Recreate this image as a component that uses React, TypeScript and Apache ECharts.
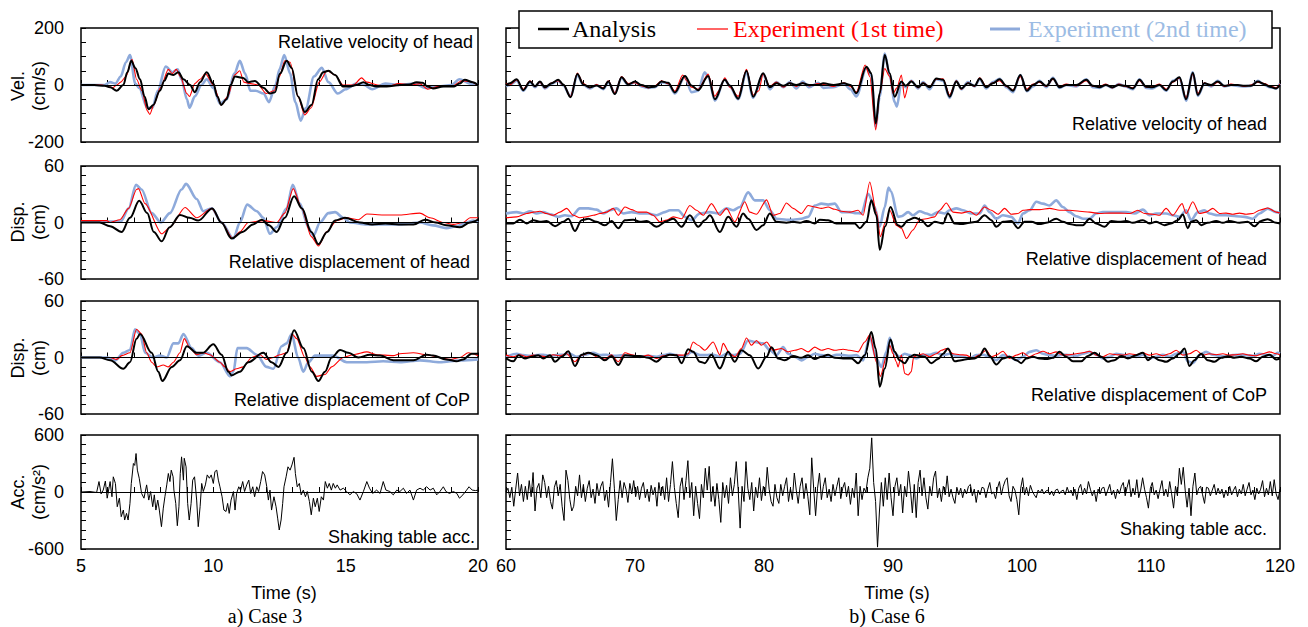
import React, { useEffect, useRef } from "react";
import * as echarts from "echarts";

// ---------------- Case 3 (5-20 s) ----------------
const velA = [[5,0],[5.5,0],[5.9,-3],[6.1,-8],[6.35,-20],[6.6,0],[6.75,45],[6.9,85],[7.05,60],[7.23,20],[7.4,-40],[7.55,-85],[7.73,-70],[7.98,-20],[8.15,15],[8.3,40],[8.49,35],[8.68,45],[8.87,20],[9.12,0],[9.3,-25],[9.5,10],[9.75,45],[10.0,5],[10.15,-40],[10.3,-70],[10.5,-50],[10.65,0],[10.82,30],[11.13,25],[11.32,10],[11.57,14],[11.89,-10],[12.14,-30],[12.33,-25],[12.52,40],[12.77,85],[12.96,60],[13.2,-40],[13.46,-95],[13.71,-70],[13.96,20],[14.15,45],[14.35,50],[14.6,35],[14.9,-5],[15.16,-5],[15.4,0],[15.67,10],[15.9,0],[16.17,-5],[16.55,-5],[17.05,0],[17.4,2],[17.68,10],[17.9,8],[18.1,-5],[18.3,-12],[18.68,-5],[19.1,-5],[19.3,5],[19.5,18],[19.8,10],[20,0]];
const velR = [[5,0],[5.8,0],[6.0,-5],[6.2,-10],[6.35,0],[6.5,10],[6.7,30],[6.93,90],[7.1,20],[7.3,-20],[7.5,-90],[7.6,-103],[7.75,-70],[8.0,-10],[8.3,55],[8.45,40],[8.6,55],[8.75,30],[9.0,-30],[9.1,-40],[9.3,5],[9.5,20],[9.7,40],[10.0,0],[10.3,-70],[10.55,-40],[10.8,35],[11.0,50],[11.15,10],[11.4,5],[11.7,0],[12.0,-30],[12.3,-20],[12.5,30],[12.7,85],[12.9,80],[13.2,-40],[13.45,-105],[13.7,-80],[14.0,10],[14.3,50],[14.6,35],[14.9,0],[15.3,0],[15.6,25],[15.8,10],[16.2,0],[16.6,-5],[17.0,5],[17.5,0],[17.8,5],[18.1,-15],[18.5,-5],[19.0,-5],[19.4,15],[19.7,12],[20,0]];
const velB = [[5,0],[5.9,0],[6.1,10],[6.3,5],[6.5,30],[6.7,80],[6.85,105],[7.05,5],[7.2,-10],[7.5,-80],[7.7,-80],[7.9,-20],[8.2,65],[8.45,45],[8.65,55],[8.8,20],[9.0,-50],[9.1,-80],[9.3,-40],[9.55,0],[9.75,20],[10.0,-10],[10.25,-65],[10.5,-50],[10.8,40],[11.0,85],[11.2,40],[11.4,-20],[11.6,-20],[11.9,-30],[12.1,-60],[12.35,0],[12.5,55],[12.68,105],[12.9,40],[13.1,-60],[13.3,-125],[13.5,-80],[13.8,30],[14.1,60],[14.35,10],[14.7,-30],[15.0,-15],[15.4,5],[15.7,0],[16.0,-15],[16.5,5],[17.0,0],[17.6,5],[18.0,-10],[18.5,-5],[19.0,0],[19.3,20],[19.7,5],[20,0]];

const dhA = [[5,0],[5.7,0],[6.1,-4],[6.54,-10],[6.85,5],[7.2,23],[7.5,10],[7.75,-10],[8.05,-20],[8.35,-5],[8.74,8],[9.1,5],[9.43,2],[9.96,15],[10.3,0],[10.69,-17],[11.1,-10],[11.5,-2],[11.83,3],[12.1,-3],[12.39,-10],[12.7,5],[13.05,28],[13.35,15],[13.7,-10],[13.97,-23],[14.3,-10],[14.6,2],[14.97,5],[15.54,0],[16.0,-2],[16.5,-1],[17.0,-2],[17.56,-2],[18.0,3],[18.4,0],[18.8,-3],[19.32,-5],[19.7,0],[20,3]];
const dhR = [[5,2],[5.97,2],[6.1,0],[6.47,3],[6.8,15],[7.1,35],[7.17,36],[7.42,20],[8.05,-12],[8.36,-5],[8.93,16],[9.37,5],[9.94,15],[10.31,0],[10.73,-17],[11.0,-10],[11.32,0],[11.89,2],[12.4,0],[12.7,10],[13.02,36],[13.34,15],[13.7,-15],[13.97,-25],[14.28,-10],[14.66,2],[15.04,5],[15.48,3],[15.8,9],[16.42,8],[17.05,8],[17.8,10],[18.19,5],[18.7,0],[19.07,-2],[19.44,0],[19.7,5],[20,5]];
const dhB = [[5,1],[6.5,1],[6.8,15],[7.08,40],[7.29,35],[7.67,10],[8.02,0],[8.36,10],[8.8,35],[8.97,41],[9.37,25],[9.62,12],[9.94,15],[10.31,0],[10.76,-17],[11.0,0],[11.28,19],[11.64,12],[11.89,5],[12.14,-12],[12.39,-5],[12.77,15],[13.0,40],[13.27,20],[13.59,-5],[13.78,-14],[14.03,0],[14.35,10],[14.6,11],[14.91,5],[15.16,0],[15.8,-2],[17.05,-2],[17.8,0],[18.3,-3],[18.8,-6],[19.19,-4],[19.57,0],[19.82,2],[20,0]];

const dcA = [[5,0],[5.7,0],[6.1,-3],[6.6,-12],[6.85,-5],[7.1,20],[7.23,25],[7.67,5],[7.92,-15],[8.07,-25],[8.43,-10],[8.74,-3],[9.0,12],[9.37,5],[9.6,5],[10.0,14],[10.31,3],[10.57,-15],[10.69,-19],[11.0,-15],[11.32,-5],[11.89,5],[12.2,-5],[12.46,-10],[12.77,5],[13.05,29],[13.4,10],[13.72,-15],[13.97,-25],[14.22,-15],[14.47,0],[14.79,8],[15.1,5],[15.48,0],[15.92,3],[16.3,2],[16.8,-3],[17.56,-3],[18.06,3],[18.3,2],[18.8,-2],[19.19,-4],[19.44,-2],[19.76,4],[20,4]];
const dcR = [[5,0],[6.1,0],[6.35,-2],[6.54,2],[6.85,5],[7.1,30],[7.29,25],[7.48,5],[7.67,-5],[7.86,-10],[8.11,-8],[8.3,-10],[8.49,-5],[8.74,5],[8.9,20],[9.12,10],[9.37,3],[9.62,5],[9.87,3],[10.25,-5],[10.44,-10],[10.63,-15],[10.88,-12],[11.13,-10],[11.45,0],[11.76,3],[12.01,-2],[12.27,0],[12.52,3],[12.77,5],[12.98,25],[13.15,20],[13.46,0],[13.65,-10],[13.9,-20],[14.22,-18],[14.47,-10],[14.91,0],[15.29,3],[15.8,6],[16.17,3],[16.8,2],[17.05,4],[17.56,5],[18.06,3],[18.56,0],[18.94,-2],[19.32,0],[19.63,5],[20,2]];
const dcB = [[5,0],[6.0,0],[6.3,-3],[6.6,5],[6.85,8],[7.04,30],[7.23,25],[7.42,5],[7.73,0],[7.98,2],[8.24,0],[8.49,15],[8.68,15],[8.87,25],[9.18,10],[9.43,2],[9.75,5],[10.25,-5],[10.63,-20],[10.76,-15],[10.91,10],[11.26,10],[11.64,3],[12.01,-10],[12.27,-12],[12.58,12],[12.77,15],[12.96,25],[13.2,0],[13.4,-15],[13.59,-5],[13.84,2],[14.53,2],[15.04,-5],[15.8,-5],[16.42,-4],[17.05,-5],[17.81,-3],[18.56,-5],[19.32,-3],[20,-2]];

const accL = [[5.0,0],[5.34,5],[5.59,-5],[5.68,110],[5.76,-20],[5.84,20],[5.92,115],[5.99,-65],[6.1,110],[6.17,-50],[6.22,160],[6.3,90],[6.37,-155],[6.45,-65],[6.52,-260],[6.6,-190],[6.65,-295],[6.72,-225],[6.78,-295],[6.85,-120],[6.9,90],[6.98,300],[7.03,280],[7.08,405],[7.13,230],[7.2,145],[7.29,-15],[7.38,-65],[7.48,75],[7.56,-85],[7.63,5],[7.71,-155],[7.77,-30],[7.83,-190],[7.9,-85],[7.96,-190],[8.04,-365],[8.11,-170],[8.17,-50],[8.24,75],[8.3,195],[8.36,110],[8.41,230],[8.48,160],[8.51,20],[8.58,-120],[8.64,-355],[8.7,-155],[8.75,195],[8.8,370],[8.87,125],[8.9,355],[8.97,265],[9.03,-120],[9.09,-295],[9.16,-120],[9.22,125],[9.29,160],[9.37,-85],[9.43,-365],[9.5,-155],[9.56,90],[9.62,5],[9.7,75],[9.77,180],[9.85,145],[9.92,180],[10.0,90],[10.06,215],[10.13,230],[10.19,125],[10.25,55],[10.33,-50],[10.4,-190],[10.48,-205],[10.54,-120],[10.6,-225],[10.67,-85],[10.76,5],[10.82,-190],[10.88,-15],[10.96,55],[11.03,20],[11.11,110],[11.18,5],[11.26,75],[11.34,125],[11.41,-15],[11.49,55],[11.56,-50],[11.64,55],[11.71,5],[11.79,110],[11.86,215],[11.94,180],[12.02,55],[12.08,-85],[12.14,20],[12.2,-190],[12.29,-50],[12.37,-155],[12.43,-275],[12.49,-400],[12.56,-295],[12.62,-120],[12.67,55],[12.75,160],[12.82,265],[12.9,230],[12.97,285],[13.05,365],[13.1,195],[13.17,55],[13.25,90],[13.32,-30],[13.4,20],[13.48,-50],[13.55,5],[13.63,-100],[13.7,-240],[13.78,-65],[13.85,-155],[13.93,-65],[14.0,-205],[14.08,-50],[14.16,-85],[14.23,110],[14.31,40],[14.38,90],[14.46,20],[14.53,90],[14.61,40],[14.68,75],[14.79,20],[14.91,40],[15.04,5],[15.16,-30],[15.29,5],[15.42,-20],[15.54,-85],[15.67,5],[15.8,110],[15.9,40],[16.02,-15],[16.17,20],[16.3,-15],[16.42,110],[16.52,20],[16.67,5],[16.8,-30],[16.93,20],[17.05,5],[17.18,40],[17.3,-15],[17.43,20],[17.56,-85],[17.68,20],[17.81,40],[17.93,20],[18.06,55],[18.19,20],[18.31,40],[18.44,-30],[18.56,5],[18.69,55],[18.79,5],[18.92,-15],[19.07,5],[19.2,-15],[19.3,-65],[19.43,-30],[19.57,20],[19.66,55],[19.78,20],[19.91,15],[20.0,20]];

// ---------------- Case 6 (60-120 s) ----------------
const vel6A = [[60,0],[60.3,6],[60.83,20],[61.34,-18],[61.86,12],[62.25,-4],[62.63,12],[63.02,-8],[63.54,6],[64.05,18],[64.44,2],[65.01,-43],[65.53,39],[65.99,2],[66.51,-8],[67.02,-2],[67.54,-12],[67.93,12],[68.44,-32],[68.96,27],[69.48,2],[69.99,12],[70.51,0],[71.03,-8],[71.54,-6],[72.06,12],[72.57,8],[73.09,-26],[73.87,32],[74.38,-2],[74.9,-18],[75.67,32],[76.19,-50],[76.96,18],[77.35,-2],[78.0,-48],[78.64,50],[79.16,-41],[79.93,41],[80.45,-8],[80.97,6],[81.5,-3],[82.0,6],[82.5,0],[83.0,6],[83.5,0],[84.2,0],[84.6,6],[85.4,0],[86.2,6],[86.7,0],[87.16,-29],[87.94,64],[88.32,41],[88.66,-135],[88.97,-29],[89.36,105],[89.74,41],[90.13,-41],[90.65,12],[90.99,-3],[91.42,12],[91.94,-8],[92.33,6],[92.84,-8],[93.36,23],[93.88,18],[94.39,-41],[94.91,12],[95.3,-12],[95.81,6],[96.33,-3],[96.72,23],[97.23,-8],[97.75,6],[98.27,20],[98.78,-3],[99.3,-20],[99.87,35],[100.38,-20],[100.85,0],[101.36,12],[101.88,-3],[102.4,23],[102.91,-8],[103.43,0],[104.2,0],[104.98,18],[105.5,-3],[106.0,-8],[106.5,0],[107.0,-8],[107.5,0],[108.0,-3],[108.6,-12],[109.11,18],[109.63,-6],[110.1,-8],[110.66,0],[111.18,-18],[111.69,12],[112.21,27],[112.72,-50],[113.24,43],[113.63,-35],[114.14,6],[114.66,0],[115.17,12],[115.69,-3],[116.2,0],[116.72,0],[117.24,-3],[117.75,-3],[118.28,12],[118.8,3],[119.2,-6],[119.7,-12],[120,0]];
const vel6R = [[60,5],[60.3,0],[60.83,18],[61.34,-15],[61.86,15],[62.25,-6],[62.63,10],[63.02,-10],[63.54,8],[64.05,15],[64.44,0],[65.01,-40],[65.53,42],[65.99,5],[66.51,-10],[67.02,2],[67.54,-10],[67.93,15],[68.44,-28],[68.96,30],[69.48,5],[69.99,8],[70.51,-3],[71.03,-10],[71.54,-3],[72.06,15],[72.57,5],[73.09,-22],[73.7,35],[74.0,15],[74.38,-8],[74.9,-15],[75.67,38],[76.19,-40],[76.5,-20],[76.96,25],[77.35,-8],[78.0,-40],[78.64,55],[79.16,-35],[79.6,-20],[79.93,40],[80.45,-5],[80.97,10],[81.5,-8],[82.0,8],[82.5,-5],[83.0,8],[83.5,-3],[84.2,5],[84.6,2],[85.4,-5],[86.2,8],[86.7,-5],[87.16,-25],[87.84,70],[88.2,30],[88.66,-158],[88.97,-30],[89.36,58],[89.74,30],[90.0,-30],[90.3,-10],[90.65,35],[90.9,-45],[91.2,0],[91.42,15],[91.94,-10],[92.33,8],[92.84,-5],[93.36,20],[93.88,22],[94.39,-35],[94.91,15],[95.3,-15],[95.81,8],[96.33,-5],[96.72,25],[97.23,-5],[97.75,8],[98.27,15],[98.78,-5],[99.3,-18],[99.87,30],[100.38,-15],[100.85,3],[101.36,10],[101.88,-5],[102.4,20],[102.91,-5],[103.43,3],[104.2,-3],[104.98,15],[105.5,-5],[106.0,-5],[106.5,3],[107.0,-10],[107.5,3],[108.0,-5],[108.6,-10],[109.11,15],[109.63,-8],[110.1,-5],[110.66,3],[111.18,-15],[111.69,10],[112.21,25],[112.72,-45],[113.24,40],[113.63,-30],[114.14,8],[114.66,-3],[115.17,10],[115.69,-5],[116.2,3],[116.72,0],[117.24,-5],[117.75,0],[118.28,10],[118.8,5],[119.2,-3],[119.7,-10],[120,3]];
const vel6B = [[60,-5],[60.3,0],[60.83,15],[61.34,-20],[61.86,10],[62.25,-8],[62.63,10],[63.02,-12],[63.54,5],[64.05,15],[64.44,-2],[65.01,-40],[65.53,35],[65.99,0],[66.51,-12],[67.02,0],[67.54,-15],[67.93,10],[68.44,-30],[68.96,25],[69.48,0],[69.99,10],[70.51,-5],[71.03,-10],[71.54,-8],[72.06,10],[72.57,5],[73.09,-30],[73.87,30],[74.38,-25],[74.9,-20],[75.4,45],[75.67,30],[76.19,-55],[76.96,20],[77.35,-5],[78.0,-50],[78.64,45],[79.16,-45],[79.93,38],[80.45,-15],[80.97,10],[81.5,-8],[82.0,10],[82.5,-12],[83.0,12],[83.5,-8],[84.2,8],[84.6,-10],[85.4,-8],[86.2,5],[86.7,-15],[87.16,-40],[87.94,60],[88.32,35],[88.66,-145],[88.97,-40],[89.36,110],[89.74,35],[90.13,-60],[90.3,-76],[90.65,10],[90.99,-8],[91.42,15],[91.94,-12],[92.33,10],[92.84,-15],[93.36,20],[93.88,15],[94.39,-45],[94.91,15],[95.3,-15],[95.81,10],[96.33,-5],[96.72,20],[97.23,-12],[97.75,10],[98.27,22],[98.78,-8],[99.3,-25],[99.87,35],[100.38,-22],[100.85,-5],[101.36,15],[101.88,-8],[102.4,25],[102.91,-10],[103.43,0],[104.2,-5],[104.98,20],[105.5,-8],[106.0,-10],[106.5,0],[107.0,-10],[107.5,3],[108.0,-5],[108.6,-15],[109.11,20],[109.63,-10],[110.1,-12],[110.66,0],[111.18,-20],[111.69,15],[112.21,25],[112.72,-55],[113.24,45],[113.63,-38],[114.14,5],[114.66,-5],[115.17,15],[115.69,-5],[116.2,0],[116.72,-3],[117.24,-5],[117.75,-3],[118.28,15],[118.8,0],[119.2,-8],[119.7,-12],[120,5]];

const dh6A = [[60,-1],[60.57,-1],[61.08,3],[61.6,-1],[62.12,2.5],[62.63,0.7],[63.15,1.7],[63.8,-4],[64.44,0.7],[64.83,4],[65.34,-9],[65.86,2.5],[66.38,4],[67.02,0.7],[67.67,-3],[68.18,1.7],[68.7,-6],[69.22,2.5],[69.86,3],[70.38,0.7],[70.9,1.7],[71.67,-4.5],[72.45,1.4],[72.96,4],[73.61,-4.5],[74.25,7.7],[74.9,-4.5],[75.41,2.5],[75.8,7.7],[76.58,-10],[77.22,6],[77.87,-4.5],[78.38,9.5],[78.77,4],[79.42,-8],[79.93,-3],[80.45,9.5],[80.97,0.7],[81.74,-0.3],[82.26,0.7],[82.77,-0.3],[83.29,1.7],[83.93,-1],[84.32,3],[84.97,2.5],[85.61,-1],[86.39,-1],[87.03,-1],[87.42,-6],[87.94,0.7],[88.32,23.5],[88.71,7.7],[88.97,-29],[89.4,-4],[89.8,16.5],[90.39,-3],[90.65,-4.5],[91.17,2.5],[91.68,5],[92.2,2.5],[92.71,-4],[93.23,0.7],[93.88,-1],[94.26,9.5],[94.78,-1],[95.3,-1.7],[95.94,-0.3],[96.46,0.7],[97.1,7.7],[97.62,2.5],[98.01,-4.5],[98.52,0.7],[99.17,1.7],[99.69,-6],[100.2,0.7],[100.72,0.7],[101.36,-1.7],[101.88,-0.3],[102.65,4],[103.17,0.7],[103.69,-1.7],[104.2,-2.8],[104.72,-2.8],[105.24,4],[105.75,-1],[106.4,-4.5],[106.92,1.7],[107.56,0.7],[108.08,1.7],[108.59,-0.3],[109.37,2.5],[109.88,-1],[110.4,0.7],[111.05,-2.8],[111.56,-1],[112.08,2.5],[112.47,8.4],[112.85,-6],[113.11,0.7],[113.5,2.5],[113.89,-2.8],[114.4,-0.3],[115.05,1.7],[115.57,-0.3],[116.08,1.7],[116.86,-0.3],[117.5,0.7],[118.02,-4],[118.53,1.7],[119.05,3.5],[119.7,-0.3],[120,-1]];
const dh6R = [[60,5],[60.83,6],[61.6,9.5],[62.12,11],[62.63,12],[63.15,9.5],[63.67,7.7],[64.18,11],[64.7,15],[65.22,7.7],[65.73,5],[66.25,6],[66.76,7.7],[67.28,9.5],[67.8,11],[68.31,15],[68.7,7.7],[69.22,16.5],[69.73,13.7],[70.25,11],[70.9,11],[71.41,7.7],[71.93,0.7],[72.45,2.5],[72.96,6],[73.61,4],[74.25,18],[74.77,13],[75.29,7.7],[75.93,20],[76.58,7.7],[77.09,15],[77.74,0.7],[78.51,22],[78.9,11],[79.42,8.8],[80.2,24],[80.71,7.7],[81.22,9.5],[81.74,20.7],[82.26,15],[82.9,9.5],[83.42,18],[83.93,16.5],[84.45,15],[84.97,16.5],[85.48,14],[86.0,12],[86.65,11],[87.29,13],[87.68,7.7],[88.2,43],[88.71,11],[89.02,-15],[89.4,0],[89.75,13],[90.26,-3],[90.65,-6],[91.04,-17],[91.55,-8],[92.07,3],[92.59,4],[93.23,6],[93.62,13],[94.13,20.7],[94.65,11],[95.3,10],[95.94,12],[96.46,7.7],[97.1,16.5],[97.62,13],[98.14,8.8],[98.65,15],[99.17,8.8],[99.69,9.5],[100.07,13],[100.59,13.7],[101.36,13.7],[102.14,15],[102.91,13],[103.69,13],[104.46,12],[105.24,11],[106.01,9.5],[106.79,10],[107.56,10],[108.34,9.5],[108.98,13],[109.5,9.5],[110.14,8.8],[110.66,7.7],[111.17,15],[111.69,7.7],[112.41,20],[112.72,9.5],[113.24,22],[113.76,9.5],[114.27,11],[114.79,15],[115.31,9.5],[115.82,10],[116.34,8.8],[116.86,10],[117.37,8.8],[117.89,9.5],[118.41,13],[119.05,15.4],[119.7,11],[120,10]];
const dh6B = [[60,9.5],[60.83,11],[61.34,9.5],[61.86,12],[62.38,9.5],[62.89,11],[63.41,8.8],[64.05,6],[64.57,7.7],[65.09,6.7],[65.73,15],[66.38,15],[67.02,13.7],[67.54,9.5],[68.06,13],[68.57,15],[69.09,9.5],[69.73,11],[70.38,9.5],[71.03,9.5],[71.67,7.7],[72.32,11],[72.7,13],[73.35,13],[73.87,6],[74.38,2.5],[75.03,9.5],[75.8,11],[76.45,9.5],[77.09,15],[77.61,13],[78.13,16.5],[78.77,32],[79.29,23.5],[79.93,23.5],[80.45,13],[80.97,4],[81.74,3],[82.26,3],[82.9,4],[83.42,6],[83.93,18],[84.45,20],[84.97,19],[85.48,20],[86.0,11],[86.65,11],[87.16,10],[87.55,9.5],[88.07,30.5],[88.58,16.5],[88.97,-4.5],[89.36,16.5],[89.65,37],[89.85,33],[90.39,6],[90.65,6.7],[91.17,11],[91.55,7.7],[92.07,12],[92.59,9.5],[92.97,7.7],[93.49,11],[94.0,9.5],[94.39,13],[94.91,15],[95.43,13],[96.07,9.5],[96.72,9.5],[97.1,18],[97.49,11],[98.01,4],[98.52,7.7],[99.17,6],[99.69,-1],[100.07,9.5],[100.59,13],[101.11,22],[101.62,20],[102.14,18],[102.65,23.5],[103.17,16.5],[103.69,11],[104.2,6.7],[104.72,4],[105.24,4],[105.75,9.5],[106.27,11],[106.92,11],[107.56,11],[108.08,11],[108.72,9.5],[109.37,13.7],[109.88,7.7],[110.4,9.5],[111.17,9.5],[111.69,7.7],[112.21,6],[112.72,13],[113.11,2.5],[113.63,11],[114.14,13],[114.53,9.5],[115.18,7.7],[115.82,7.7],[116.6,6.7],[117.24,6],[117.89,4],[118.41,9.5],[119.05,14.7],[119.7,11],[120,10]];

const dc6A = [[60,-1],[60.57,-4],[60.96,2.5],[61.47,-1],[61.99,0.7],[62.5,2.5],[62.89,-1],[63.41,2.5],[63.8,-4.5],[64.31,0.7],[64.83,6.7],[65.34,-9],[65.86,3],[66.38,5],[67.02,2.5],[67.67,-3],[68.18,1.7],[68.7,-8],[69.22,2.5],[69.86,1.7],[70.38,1.7],[71.03,-0.3],[71.67,-4.5],[72.19,0.7],[72.7,3],[73.22,2.5],[73.61,-6],[74.12,8.8],[74.51,6],[75.03,-4.5],[75.41,-6],[75.93,3],[76.58,-11.6],[77.22,6],[77.74,-4.5],[78.25,7.7],[78.9,2.5],[79.55,-11.6],[80.2,0.7],[80.58,11],[81.1,-1],[81.61,-3],[82.26,1.7],[82.9,-0.3],[83.42,2.5],[83.93,-1.7],[84.45,0.7],[84.97,3],[85.48,-0.3],[86.13,-1],[86.78,-1],[87.29,-6],[87.81,2.5],[88.32,27],[88.66,9.5],[88.97,-31],[89.36,-11.6],[89.8,19],[90.13,6],[90.52,-3],[90.91,-6],[91.29,0.7],[91.68,3],[92.07,1.7],[92.46,0.7],[92.97,-6],[93.49,-1.7],[93.88,4],[94.26,9.5],[94.78,-4],[95.3,-2.8],[95.81,-1.7],[96.33,-1],[96.72,1.7],[97.1,9.5],[97.49,1.7],[98.01,-7.4],[98.52,-1],[99.04,0.7],[99.56,-2.8],[99.94,-6],[100.33,-1],[100.85,0.7],[101.36,-1],[101.88,-1.7],[102.4,-0.3],[102.91,6],[103.43,0.7],[103.95,-4],[104.59,-4],[105.11,1.7],[105.62,5],[106.14,0.7],[106.66,-4.5],[107.17,-2.8],[107.69,1.7],[108.21,-1],[108.85,2.5],[109.37,5],[109.76,-2.8],[110.14,0.7],[110.66,-2.8],[111.18,-4.5],[111.69,-1],[112.21,4],[112.6,9.5],[112.98,-9],[113.37,-2.8],[113.89,4],[114.4,-2.8],[114.92,-4.5],[115.44,-0.3],[115.95,1.4],[116.47,-0.3],[116.98,0.7],[117.63,-1],[118.15,-4],[118.66,0.7],[119.18,3],[119.7,-2],[120,-1]];
const dc6R = [[60,2.5],[60.57,0.7],[61.08,3],[61.6,0.7],[62.12,2.5],[62.63,1.7],[63.15,0.7],[63.67,3],[64.18,1.7],[64.7,4],[65.34,-4.5],[65.86,2.5],[66.51,5],[67.02,0.7],[67.67,-1.7],[68.18,3],[68.7,-4.5],[69.22,5],[69.86,2.5],[70.38,0.7],[71.03,2.5],[71.67,-1],[72.19,1.7],[72.7,3],[73.22,2.5],[73.74,2.5],[74.12,4],[74.51,16.5],[74.9,13],[75.41,7.7],[76.06,16.5],[76.58,2.5],[76.83,15],[77.35,4],[77.74,0.7],[78.25,9.5],[78.64,20.7],[79.03,13],[79.42,18],[79.8,13],[80.2,16.5],[80.71,7.7],[81.35,9.5],[81.87,6],[82.39,7.7],[82.9,9.5],[83.42,6],[83.93,11],[84.45,7.7],[84.97,9.5],[85.48,7.7],[86.13,8.8],[86.65,7.7],[87.29,6],[87.81,16.5],[88.2,24],[88.71,-4.5],[89.02,-20],[89.49,0.7],[89.75,13],[90.0,4],[90.26,-4.5],[90.39,-10],[90.65,2.5],[90.91,-17],[91.17,-18.6],[91.42,-15],[91.6,0.7],[91.94,2.5],[92.33,4],[92.84,0.7],[93.36,4],[93.75,7.7],[94.13,9.5],[94.65,4],[95.17,3],[95.68,2.5],[96.2,-1],[96.72,3],[97.23,7.7],[97.62,0.7],[98.01,2.5],[98.52,6.7],[99.04,-1],[99.56,2.5],[100.07,5],[100.59,0.7],[101.11,4],[101.62,6.7],[102.14,4],[102.65,6],[103.17,2.5],[103.69,3],[104.2,4],[104.72,5],[105.24,6.7],[105.75,2.5],[106.27,0.7],[106.79,4],[107.3,3],[107.82,2.5],[108.33,4],[108.85,3],[109.37,5],[109.88,2.5],[110.4,4],[110.92,1.7],[111.43,4],[111.95,7.7],[112.47,2.5],[112.98,4],[113.5,7.7],[114.02,2.5],[114.53,4],[115.05,3],[115.57,4],[116.08,2.5],[116.6,3],[117.12,4],[117.63,2.5],[118.15,1.7],[118.66,4],[119.18,6],[119.7,4],[120,3]];
const dc6B = [[60,0.7],[60.83,4],[61.34,2.5],[61.86,1.7],[62.38,2.5],[62.89,3],[63.41,1.7],[63.92,2.5],[64.44,3],[64.96,4],[65.47,0.7],[66.12,3],[66.76,5],[67.28,2.5],[67.8,3],[68.44,1.7],[69.09,2.5],[69.73,1.7],[70.38,0.7],[71.03,1.7],[71.67,0.7],[72.19,2.5],[72.7,4],[73.22,2.5],[73.87,0.7],[74.38,6],[75.03,2.5],[75.54,2.5],[76.06,3],[76.58,0.7],[77.09,4],[77.61,2.5],[78.13,4],[78.77,18],[79.29,16.5],[79.93,15],[80.45,7.7],[80.97,2.5],[81.48,11],[81.87,4],[82.39,0.7],[82.9,-3],[83.42,0.7],[83.93,4],[84.45,2.5],[85.1,0.7],[85.61,3],[86.13,2.5],[86.65,1.7],[87.16,2.5],[87.68,-3],[88.2,22],[88.71,-1],[89.1,-10],[89.49,6],[89.75,21],[90.13,4],[90.52,0.7],[90.91,4],[91.29,2.5],[91.81,-1],[92.33,2.5],[92.84,3],[93.36,5],[93.88,2.5],[94.39,4],[94.91,1.7],[95.43,0.7],[95.94,-1],[96.46,2.5],[96.98,3],[97.49,0.7],[98.01,-2.8],[98.52,2.5],[99.04,0.7],[99.56,-2.8],[100.07,0.7],[100.59,6],[101.11,7.7],[101.62,4],[102.14,2.5],[102.65,1.7],[103.17,3],[103.69,2.5],[104.2,1.7],[104.72,4],[105.24,6],[105.75,3],[106.27,-1],[106.79,0.7],[107.3,4],[107.82,3],[108.33,1.7],[108.85,0.7],[109.37,3],[109.88,-1],[110.4,0.7],[110.92,3],[111.43,0.7],[111.95,4],[112.47,6],[112.85,-4],[113.24,-6],[113.76,2.5],[114.27,6],[114.79,3],[115.31,1.7],[115.82,0.7],[116.34,2.5],[116.86,3],[117.37,2.5],[117.89,1.7],[118.41,4],[118.92,3],[119.44,1.7],[119.82,5],[120,4]];

// shaking table acc., Case 6, one value every 0.15 s from 60 s
const ACC6_T0 = 60;
const ACC6_DT = 0.15;
const acc6 = [
  0,40,-60,50,-150,30,200,-40,80,-100,60,-80,120,-50,205,-200,40,90,-60,180,
  100,-60,60,-100,-180,50,120,-40,80,-150,-300,230,120,-80,-200,-150,60,-40,180,-60,
  80,-100,40,120,-60,30,-120,90,-40,60,110,-90,20,-160,100,350,40,-300,-80,120,
  -60,100,30,-110,90,-20,120,-50,60,-80,40,100,-60,30,-100,70,-30,50,-150,100,
  -40,60,-80,150,-100,80,320,50,-120,-270,60,150,-80,120,330,-60,100,-250,60,-120,
  -280,80,-60,250,20,270,-100,60,-150,90,-80,-320,100,-60,70,-120,150,-40,80,320,
  20,-380,60,-100,320,40,-80,100,-200,50,-60,150,-90,60,-40,260,30,-100,-150,80,
  -60,-120,80,-40,60,150,-100,40,-80,200,20,-120,60,150,-70,90,-50,-240,360,40,
  -250,40,200,-80,60,150,-60,30,-100,80,-40,60,150,-70,40,100,-50,60,-130,40,
  -60,200,-250,60,-80,40,0,150,250,570,100,-100,-580,-200,100,-150,150,-80,200,-60,
  -250,60,150,-40,80,-220,60,-50,220,30,-220,80,-270,100,230,-40,150,-60,-180,60,
  -40,150,220,-60,40,-100,60,-30,170,-50,30,-60,-120,50,-30,40,-60,30,-20,60,
  80,-40,30,-110,20,-30,50,40,-60,30,100,-20,0,-70,40,110,-30,60,120,150,
  -40,-100,60,20,-80,-240,40,150,-30,50,-40,70,10,-30,-60,20,-10,30,-20,10,
  20,-30,10,-40,20,30,-20,10,20,-30,50,-10,20,-40,30,-80,40,80,-30,40,
  -20,110,30,-40,20,-100,30,-20,40,50,-40,20,80,-30,20,-70,30,-20,60,100,
  -40,50,130,-50,40,-30,130,-60,20,150,30,-60,-170,40,100,-30,20,-70,30,120,
  -40,30,-50,110,-20,-170,60,-40,250,80,260,20,-160,40,-250,60,200,-30,40,60,
  -30,-120,50,40,-40,20,80,-30,40,-20,30,-60,20,-40,60,-30,20,60,-50,30,
  -20,80,-40,30,100,-30,20,-80,40,-20,30,120,-50,40,-30,110,-40,130,-20,-80,
  30
];

// ---------------- styling ----------------
const SANS = "Arial, 'Liberation Sans', Helvetica, sans-serif";
const SERIF = "'Times New Roman', 'Liberation Serif', serif";
const BLUE = "#8EAADB";
const BLUE_TXT = "#9CBCE4";
const RED = "#FF0000";

const ROWS = [
  { top: 28, h: 114 },
  { top: 166, h: 113 },
  { top: 301, h: 113 },
  { top: 435, h: 114 },
];
const COLS = [
  { left: 81, w: 397, min: 5, max: 20, step: 1, lab: 5 },
  { left: 506, w: 774, min: 60, max: 120, step: 2, lab: 10 },
];

export default function App() {
  const ref = useRef<HTMLDivElement>(null);
  useEffect(() => {
    const chart = echarts.init(ref.current!, null, { renderer: "svg" });
    const acc6Pts = acc6.map((v, i) => [+(ACC6_T0 + ACC6_DT * i).toFixed(2), v]);

    const panels: any[] = [
      { row: 0, col: 0, ymin: -200, ymax: 200, ystep: 50, lines: [velB, velR, velA] },
      { row: 1, col: 0, ymin: -60, ymax: 60, ystep: 10, lines: [dhB, dhR, dhA] },
      { row: 2, col: 0, ymin: -60, ymax: 60, ystep: 10, lines: [dcB, dcR, dcA] },
      { row: 3, col: 0, ymin: -600, ymax: 600, ystep: 100, acc: accL },
      { row: 0, col: 1, ymin: -200, ymax: 200, ystep: 50, lines: [vel6B, vel6R, vel6A] },
      { row: 1, col: 1, ymin: -60, ymax: 60, ystep: 10, lines: [dh6B, dh6R, dh6A] },
      { row: 2, col: 1, ymin: -60, ymax: 60, ystep: 10, lines: [dc6B, dc6R, dc6A] },
      { row: 3, col: 1, ymin: -600, ymax: 600, ystep: 100, acc: acc6Pts },
    ];

    const grid: any[] = [];
    const xAxis: any[] = [];
    const yAxis: any[] = [];
    const series: any[] = [];
    const zeroLine = {
      silent: true,
      symbol: ["none", "none"],
      label: { show: false },
      lineStyle: { color: "#000", width: 1, type: "solid" },
      data: [{ yAxis: 0 }],
      animation: false,
    };

    panels.forEach((p, i) => {
      const r = ROWS[p.row];
      const c = COLS[p.col];
      grid.push({
        left: c.left, top: r.top, width: c.w, height: r.h,
        show: true, borderColor: "#000", borderWidth: 1.5, backgroundColor: "#fff",
      });
      xAxis.push({
        gridIndex: i, type: "value", min: c.min, max: c.max, interval: c.step,
        axisLine: { show: false },
        axisTick: { show: true, inside: true, length: 5, lineStyle: { color: "#000", width: 1 } },
        splitLine: { show: false },
        axisLabel: {
          show: p.row === 3, margin: 8, color: "#000", fontSize: 18, fontFamily: SANS,
          formatter: (v: number) => (Math.abs(v % c.lab) < 1e-6 ? String(v) : ""),
        },
      });
      yAxis.push({
        gridIndex: i, type: "value", min: p.ymin, max: p.ymax, interval: p.ystep,
        axisLine: { show: false },
        axisTick: { show: true, inside: true, length: 5, lineStyle: { color: "#000", width: 1 } },
        splitLine: { show: false },
        axisLabel: {
          show: p.col === 0, margin: 17, color: "#000", fontSize: 18, fontFamily: SANS,
          formatter: (v: number) => (v === p.ymin || v === p.ymax || v === 0 ? String(v) : ""),
        },
      });
      if (p.lines) {
        const [b, rr, a] = p.lines;
        series.push({
          type: "line", xAxisIndex: i, yAxisIndex: i, data: b, showSymbol: false, symbol: "none",
          smooth: 0.3, smoothMonotone: "x", lineStyle: { color: BLUE, width: 2.6 }, silent: true,
          markLine: zeroLine, z: 2,
        });
        series.push({
          type: "line", xAxisIndex: i, yAxisIndex: i, data: rr, showSymbol: false, symbol: "none",
          smooth: 0.25, smoothMonotone: "x", lineStyle: { color: RED, width: 1.1 }, silent: true, z: 3,
        });
        series.push({
          type: "line", xAxisIndex: i, yAxisIndex: i, data: a, showSymbol: false, symbol: "none",
          smooth: 0.35, smoothMonotone: "x", lineStyle: { color: "#000", width: 2 }, silent: true, z: 4,
        });
      } else {
        series.push({
          type: "line", xAxisIndex: i, yAxisIndex: i, data: p.acc, showSymbol: false, symbol: "none",
          lineStyle: { color: "#000", width: 1 }, silent: true, markLine: zeroLine, z: 3,
        });
      }
    });

    const txt = (text: string, x: number, y: number, align: string, font: string, fill = "#000", rot = 0) => ({
      type: "text", x, y, rotation: rot, z: 100, silent: true,
      style: { text, x: 0, y: 0, font, fill, align, textAlign: align, verticalAlign: "middle", textVerticalAlign: "middle" },
    });
    const F18 = `18px ${SANS}`;
    const FL = `24px ${SERIF}`;
    const graphic: any[] = [
      // panel captions
      txt("Relative velocity of head", 473, 42, "right", F18),
      txt("Relative displacement of head", 470, 262, "right", F18),
      txt("Relative displacement of CoP", 470, 400, "right", F18),
      txt("Shaking table acc.", 475, 537, "right", F18),
      txt("Relative velocity of head", 1267, 124, "right", F18),
      txt("Relative displacement of head", 1267, 259, "right", F18),
      txt("Relative displacement of CoP", 1267, 395, "right", F18),
      txt("Shaking table acc.", 1267, 529, "right", F18),
      // y axis titles (rotated)
      txt("Vel.", 18, 86, "center", F18, "#000", Math.PI / 2),
      txt("(cm/s)", 39, 86, "center", F18, "#000", Math.PI / 2),
      txt("Disp.", 18, 222, "center", F18, "#000", Math.PI / 2),
      txt("(cm)", 39, 222, "center", F18, "#000", Math.PI / 2),
      txt("Disp.", 18, 358, "center", F18, "#000", Math.PI / 2),
      txt("(cm)", 39, 358, "center", F18, "#000", Math.PI / 2),
      txt("Acc.", 18, 492, "center", F18, "#000", Math.PI / 2),
      txt("(cm/s²)", 39, 492, "center", F18, "#000", Math.PI / 2),
      // x axis titles and case labels
      txt("Time (s)", 284, 593, "center", F18),
      txt("Time (s)", 897, 593, "center", F18),
      txt("a) Case 3", 265, 616, "center", `20px ${SERIF}`),
      txt("b) Case 6", 887, 616, "center", `20px ${SERIF}`),
      // legend
      {
        type: "rect", z: 99, silent: true,
        shape: { x: 519, y: 11, width: 753, height: 37 },
        style: { fill: "#fff", stroke: "#000", lineWidth: 1.5 },
      },
      { type: "line", z: 100, silent: true, shape: { x1: 538, y1: 29, x2: 569, y2: 29 }, style: { stroke: "#000", lineWidth: 2.5 } },
      txt("Analysis", 572, 29, "left", FL),
      { type: "line", z: 100, silent: true, shape: { x1: 697, y1: 29, x2: 728, y2: 29 }, style: { stroke: RED, lineWidth: 1.2 } },
      txt("Experiment (1st time)", 733, 29, "left", FL, RED),
      { type: "line", z: 100, silent: true, shape: { x1: 990, y1: 29, x2: 1020, y2: 29 }, style: { stroke: BLUE, lineWidth: 3 } },
      txt("Experiment (2nd time)", 1028, 29, "left", FL, BLUE_TXT),
    ];

    chart.setOption({
      animation: false,
      backgroundColor: "#fff",
      grid, xAxis, yAxis, series, graphic,
    });
    return () => chart.dispose();
  }, []);
  return (
    <div
      ref={ref}
      style={{ position: "fixed", left: 0, top: 0, width: 1308, height: 627, background: "#fff" }}
    />
  );
}
